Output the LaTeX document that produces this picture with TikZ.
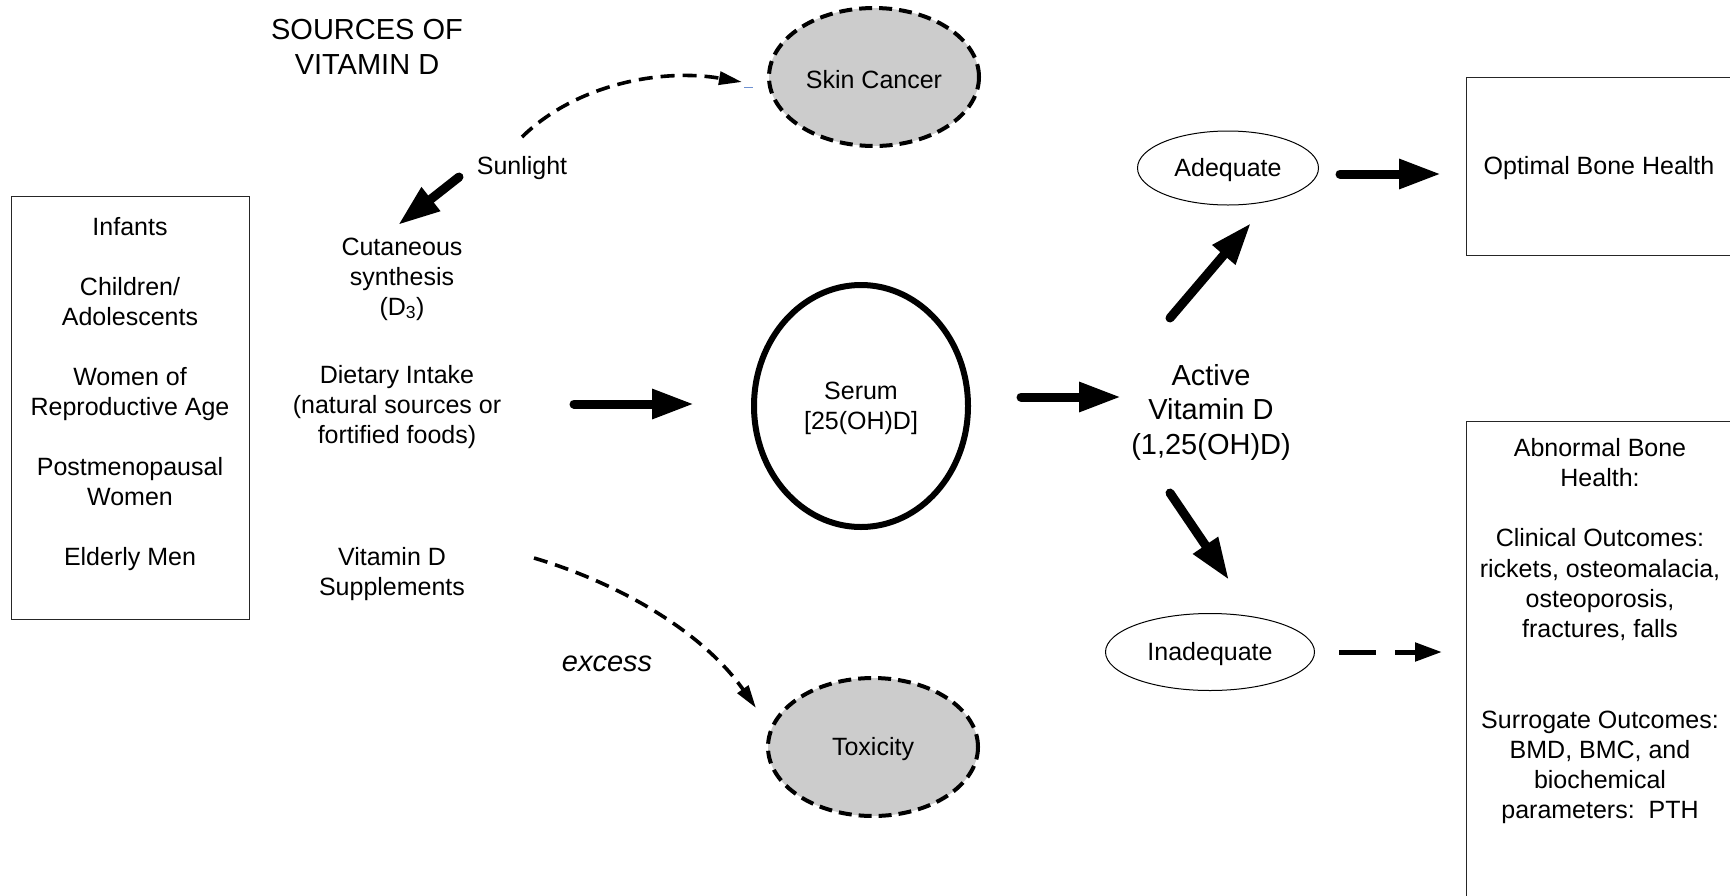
\documentclass[tikz,border=0pt]{standalone}
\usepackage{fontspec}
\setmainfont{Liberation Sans}
\usetikzlibrary{arrows.meta,shapes.geometric}
\newcommand{\lowr}[1]{\raisebox{-2.5pt}[\height][\depth]{#1}}
\begin{document}
\begin{tikzpicture}[x=1pt,y=-1pt,
  txt/.style={font=\fontsize{25}{30}\selectfont, align=center, inner sep=0pt},
  bigtxt/.style={font=\fontsize{29}{34.5}\selectfont, align=center, inner sep=0pt},
  frame/.style={draw=black!85, line width=1.3pt, inner sep=0pt, anchor=north west},
  greyoval/.style={ellipse, draw=black, fill=black!20, line width=4pt, dash pattern=on 13pt off 7pt, minimum width=210pt, minimum height=138pt, inner sep=0pt, font=\fontsize{25}{30}\selectfont},
  thinoval/.style={ellipse, draw=black, line width=1pt, inner sep=0pt, font=\fontsize{25}{30}\selectfont},
  bigarrow/.style={line width=9pt, line cap=round, -{Triangle[length=42pt,width=28pt]}},
  dasharc/.style={line width=3.6pt, dash pattern=on 14pt off 8pt, -{Triangle[length=23pt,width=13pt]}},
  dashbig/.style={line width=5pt, dash pattern=on 37pt off 19pt, -{Triangle[length=27pt,width=18pt]}}
]
\useasboundingbox (0,0) rectangle (1730,895);

% left population box
\node[frame, minimum width=238pt, minimum height=423pt] (popbox) at (11,196) {};
\node[txt] (pop) at (130,394) {Infants\\[30pt]Children/\\Adolescents\\[30pt]Women of\\Reproductive Age\\[30pt]Postmenopausal\\Women\\[30pt]Elderly Men};

% sources
\node[bigtxt] (title) at (367,47) {SOURCES OF\\VITAMIN D};
\node[txt] (sun) at (522,168) {Sunlight};
\node[txt] (cut) at (402,279) {Cutaneous\\synthesis\\(D\textsubscript{3})};
\node[txt] (diet) at (397,407) {Dietary Intake\\(natural sources or\\fortified foods)};
\node[txt] (supp) at (392,574) {Vitamin D\\Supplements};
\node[txt, font=\fontsize{29}{34}\selectfont\itshape] (excess) at (607,664) {excess};

% ovals
\node[greyoval] (skin) at (874,77) {\lowr{Skin Cancer}};
\node[greyoval] (tox) at (873,747) {\lowr{Toxicity}};
\node[ellipse, draw=black, line width=6pt, minimum width=214pt, minimum height=242pt, inner sep=0pt, align=center, font=\fontsize{25}{30}\selectfont] (serum) at (861,406) {\lowr{Serum}\\\lowr{[25(OH)D]}};
\node[bigtxt] (active) at (1211,412) {Active\\Vitamin D\\(1,25(OH)D)};
\node[thinoval, minimum width=181pt, minimum height=74pt] (adeq) at (1228,168) {\lowr{Adequate}};
\node[thinoval, minimum width=209pt, minimum height=77pt] (inadeq) at (1210,652) {\lowr{Inadequate}};

% right boxes
\node[frame, minimum width=280pt, minimum height=178pt] (optbox) at (1466,77) {};
\node[txt] (opt) at (1599,168) {Optimal Bone Health};
\node[frame, minimum width=280pt, minimum height=490pt] (abnbox) at (1466,421) {};
\node[txt, font=\fontsize{25}{30.2}\selectfont] (abn) at (1600,631) {Abnormal Bone\\Health:\\[30.2pt]Clinical Outcomes:\\rickets, osteomalacia,\\osteoporosis,\\fractures, falls\\[60.4pt]Surrogate Outcomes:\\BMD, BMC, and\\biochemical\\parameters:\ \ PTH};

% small blue mark beside the skin cancer arrow
\draw[color={rgb,255:red,110;green,145;blue,210}, line width=0.8pt] (744,87) -- (753,87);

% arrow end points
\coordinate (sunS) at (459,177);
\coordinate (sunE) at (398,225);
\coordinate (dietS) at (574,404);
\coordinate (dietE) at (694,404);
\coordinate (serS) at (1021,397);
\coordinate (serE) at (1121,397);
\coordinate (upS) at (1170,318);
\coordinate (upE) at (1251,223);
\coordinate (dnS) at (1170,493);
\coordinate (dnE) at (1229,580);
\coordinate (adS) at (1340,174);
\coordinate (adE) at (1441,174);
\coordinate (inS) at (1339,652);
\coordinate (inE) at (1442,652);
\coordinate (skS) at (522,137);
\coordinate (skE) at (742,82);
\coordinate (spS) at (534,558);
\coordinate (spE) at (756,708);

\draw[bigarrow] (sunS) -- (sunE);
\draw[bigarrow] (dietS) -- (dietE);
\draw[bigarrow] (serS) -- (serE);
\draw[bigarrow] (upS) -- (upE);
\draw[bigarrow] (dnS) -- (dnE);
\draw[bigarrow] (adS) -- (adE);
\draw[dashbig] (inS) -- (inE);
\draw[dasharc] (skS) .. controls (575,85) and (660,68) .. (skE);
\draw[dasharc] (spS) .. controls (625,585) and (705,635) .. (spE);
\end{tikzpicture}
\end{document}
